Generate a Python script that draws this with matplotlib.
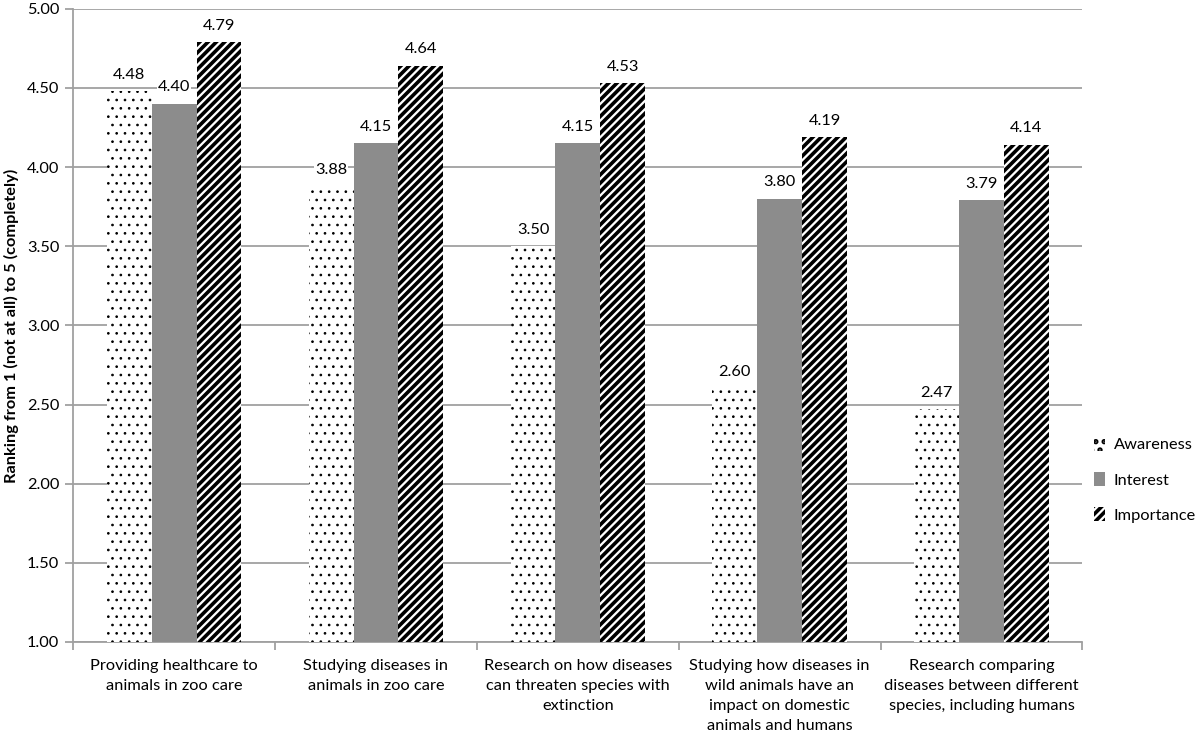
import matplotlib
matplotlib.use("Agg")
import matplotlib.pyplot as plt
import numpy as np

categories = [
    "Providing healthcare to\nanimals in zoo care",
    "Studying diseases in\nanimals in zoo care",
    "Research on how diseases\ncan threaten species with\nextinction",
    "Studying how diseases in\nwild animals have an\nimpact on domestic\nanimals and humans",
    "Research comparing\ndiseases between different\nspecies, including humans",
]
awareness = [4.48, 3.88, 3.50, 2.60, 2.47]
interest = [4.40, 4.15, 4.15, 3.80, 3.79]
importance = [4.79, 4.64, 4.53, 4.19, 4.14]
series_names = ["Awareness", "Interest", "Importance"]
yticks = [1.0, 1.5, 2.0, 2.5, 3.0, 3.5, 4.0, 4.5, 5.0]

plt.rcParams['font.family'] = ['Lato', 'DejaVu Sans']

fig = plt.figure(figsize=(12, 7.37), dpi=100)
ax = fig.add_axes([0.061, 0.129, 0.841, 0.859])

x = np.arange(len(categories))
w = 0.222
base = 1.0
grid_c = '#a0a0a0'
fs = 11.8

plt.rcParams['hatch.linewidth'] = 0.7
b1 = ax.bar(x - w, np.array(awareness) - base, w, bottom=base, color='white',
            edgecolor='black', hatch='..', linewidth=0, label=series_names[0], zorder=3)
b2 = ax.bar(x, np.array(interest) - base, w, bottom=base, color='#8c8c8c',
            linewidth=0, label=series_names[1], zorder=3)
plt.rcParams['hatch.linewidth'] = 2.6
b3 = ax.bar(x + w, np.array(importance) - base, w, bottom=base, color='white',
            edgecolor='black', hatch='////', linewidth=0, label=series_names[2], zorder=3)
for p in b1:
    p.set_hatch_linewidth(0.7) if hasattr(p, 'set_hatch_linewidth') else None
for p in b3:
    p.set_hatch_linewidth(2.6) if hasattr(p, 'set_hatch_linewidth') else None

for xs, vals in ((x - w, awareness), (x, interest), (x + w, importance)):
    for xi, v in zip(xs, vals):
        ax.text(xi, v + 0.06, f"{v:.2f}", ha='center', va='bottom', fontsize=fs, zorder=4,
                bbox=dict(facecolor='white', edgecolor='none', pad=0.5))

ax.set_xlim(-0.5, len(categories) - 0.5)
ax.set_ylim(1.0, 5.0)
ax.set_yticks(yticks)
ax.set_yticklabels([f"{t:.2f}" for t in yticks], fontsize=fs)
ax.yaxis.grid(True, color=grid_c, linewidth=1.3, zorder=0)
ax.set_axisbelow(True)
ax.set_xticks(x)
ax.set_xticklabels(categories, fontsize=fs, linespacing=1.55)
ax.set_xticks(np.arange(-0.5, len(categories) + 0.5, 1), minor=True)
ax.tick_params(axis='x', which='major', length=0, pad=12)
ax.tick_params(axis='x', which='minor', length=6, color=grid_c, width=1.3)
ax.tick_params(axis='y', length=6, color=grid_c, width=1.3, pad=4)
for s in ('top', 'right'):
    ax.spines[s].set_visible(False)
for s in ('left', 'bottom'):
    ax.spines[s].set_color(grid_c)
    ax.spines[s].set_linewidth(1.3)

ax.set_ylabel("Ranking from 1 (not at all) to 5 (completely)", fontsize=fs,
              fontweight='bold', labelpad=6)

ax.legend(loc='center left', bbox_to_anchor=(1.0, 0.256), frameon=False,
          fontsize=fs, handlelength=0.7, handleheight=0.9, labelspacing=1.2,
          handletextpad=0.5, borderaxespad=0.3)

fig.savefig("out.png", dpi=100)
